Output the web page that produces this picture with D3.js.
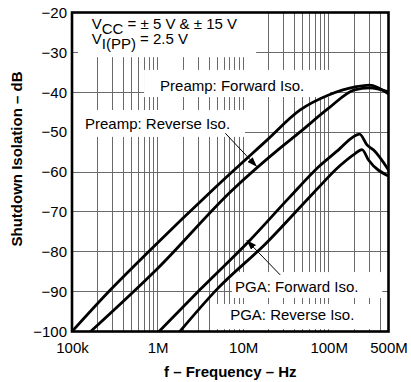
<!DOCTYPE html>
<html>
<head>
<meta charset="utf-8">
<script src="https://cdn.jsdelivr.net/npm/d3@7"></script>
<style>
  html, body { margin: 0; padding: 0; background: #fff; }
  svg { display: block; font-family: "Liberation Sans", Arial, Helvetica, sans-serif; }
  text { white-space: pre; }
</style>
</head>
<body>
<svg id="chart" width="411" height="382"></svg>
<script>
// Shutdown isolation vs. frequency for the preamp and PGA stages

// Preamp, forward isolation
const preampFwdFreq = [1e5, 2.8e5, 8e5, 4.4e6, 1.9e7, 4.6e7, 1.0e8, 2.1e8, 3.0e8, 5.0e8];
const preampFwdDb   = [-100, -89.6, -79.8, -64.5, -52.0, -44.5, -40.7, -38.6, -38.2, -40.4];

// Preamp, reverse isolation
const preampRevFreq = [1.65e5, 1.0e6, 7.5e6, 2.7e7, 4.6e7, 1.0e8, 2.0e8, 3.0e8, 5.0e8];
const preampRevDb   = [-100, -84.2, -64.5, -54.0, -50.0, -44.0, -39.4, -38.9, -39.9];

// PGA, forward isolation
const pgaFwdFreq = [1.04e6, 3.1e6, 1.2e7, 3.5e7, 7.8e7, 1.34e8, 1.85e8, 2.3e8, 2.8e8, 3.35e8, 5.0e8];
const pgaFwdDb   = [-100, -89.6, -77.1, -66.3, -58.5, -54.2, -51.5, -50.5, -53.2, -54.5, -59.5];

// PGA, reverse isolation
const pgaRevFreq = [1.82e6, 4.9e6, 1.87e7, 6.8e7, 1.34e8, 2.0e8, 2.45e8, 2.92e8, 5.0e8];
const pgaRevDb   = [-100, -89.5, -77.8, -65.0, -58.5, -55.5, -54.4, -57.0, -61.0];

// Axis ticks
const xTickValues = [1e5, 1e6, 1e7, 1e8, 5e8];
const xTickLabels = ["100k", "1M", "10M", "100M", "500M"];
const yTickValues = [-100, -90, -80, -70, -60, -50, -40, -30, -20];
const yTickLabels = ["\u2212100", "\u221290", "\u221280", "\u221270", "\u221260", "\u221250", "\u221240", "\u221230", "\u221220"];

const xTitle = "f \u2013 Frequency \u2013 Hz";
const yTitle = "Shutdown Isolation \u2013 dB";

// ---- layout ----
const svg = d3.select("#chart");
const plot = { left: 72, right: 388.5, top: 12.5, bottom: 331.5 };

const x = d3.scaleLog().domain([1e5, 5e8]).range([plot.left, plot.right]);
const y = d3.scaleLinear().domain([-100, -20]).range([plot.bottom, plot.top]);

const series = [
  { freq: preampFwdFreq, db: preampFwdDb },
  { freq: preampRevFreq, db: preampRevDb },
  { freq: pgaFwdFreq, db: pgaFwdDb },
  { freq: pgaRevFreq, db: pgaRevDb }
];

// Annotation placement, in data units (frequency, dB)
const labelBoxes = [
  { f0: 1.175e5, f1: 1.42e7, d0: -20,   d1: -31.2 },
  { f0: 6.95e5,  f1: 1.04e8, d0: -34.4, d1: -41.2 },
  { f0: 1e5,     f1: 1.05e7, d0: -44.45, d1: -51.2 },
  { f0: 7.43e6,  f1: 4.23e8, d0: -85.1, d1: -91.6 },
  { f0: 4.11e6,  f1: 3.69e8, d0: -93.1, d1: -99.4 }
];

const labels = [
  { f: 1.7e5,  d: -24.2, parts: [["V", 0], ["CC", 4.5], [" = \u00b1 5 V & \u00b1 15 V", 0]] },
  { f: 1.7e5,  d: -27.9, parts: [["V", 0], ["I(PP)", 4.5], [" = 2.5 V", 0]] },
  { f: 1.07e6, d: -39.7, parts: [["Preamp: Forward Iso.", 0]] },
  { f: 1.42e5, d: -49.1, parts: [["Preamp: Reverse Iso.", 0]] },
  { f: 8.06e6, d: -90.1, parts: [["PGA: Forward Iso.", 0]] },
  { f: 7.05e6, d: -97.1, parts: [["PGA: Reverse Iso.", 0]] }
];

const arrows = [
  { from: [6.2e6, -50.3], to: [1.45e7, -58.7] },
  { from: [2.71e7, -85.8], to: [1.10e7, -77.1] }
];

// ---- grid ----
const minorX = [];
[1e5, 1e6, 1e7, 1e8].forEach(dec => {
  for (let m = 1; m <= 9; m++) {
    const v = dec * m;
    if (v > 1e5 && v < 5e8) minorX.push(v);
  }
});

const grid = svg.append("g")
  .attr("stroke", "#6a6a6a")
  .attr("stroke-width", 1)
  .attr("shape-rendering", "crispEdges");

grid.selectAll("line.v").data(minorX).join("line")
  .attr("class", "v")
  .attr("x1", d => x(d)).attr("x2", d => x(d))
  .attr("y1", plot.top).attr("y2", plot.bottom);

grid.selectAll("line.h").data(yTickValues.slice(1, -1)).join("line")
  .attr("class", "h")
  .attr("x1", plot.left).attr("x2", plot.right)
  .attr("y1", d => y(d)).attr("y2", d => y(d));

// ---- white label backgrounds ----
svg.append("g").selectAll("rect").data(labelBoxes).join("rect")
  .attr("x", d => x(d.f0))
  .attr("y", d => y(d.d0))
  .attr("width", d => x(d.f1) - x(d.f0))
  .attr("height", d => y(d.d1) - y(d.d0))
  .attr("fill", "#fff");

// ---- traces ----
const clip = svg.append("clipPath").attr("id", "plotClip")
  .append("rect")
  .attr("x", plot.left).attr("y", plot.top)
  .attr("width", plot.right - plot.left).attr("height", plot.bottom - plot.top);

const line = d3.line()
  .x(d => x(d[0]))
  .y(d => y(d[1]))
  .curve(d3.curveMonotoneX);

svg.append("g").attr("clip-path", "url(#plotClip)")
  .selectAll("path").data(series).join("path")
  .attr("d", s => line(s.freq.map((f, i) => [f, s.db[i]])))
  .attr("fill", "none")
  .attr("stroke", "#000")
  .attr("stroke-width", 2.8)
  .attr("stroke-linejoin", "round")
  .attr("stroke-linecap", "round");

// ---- arrows ----
svg.append("defs").append("marker")
  .attr("id", "head")
  .attr("markerUnits", "userSpaceOnUse")
  .attr("markerWidth", 10).attr("markerHeight", 7)
  .attr("refX", 10).attr("refY", 3.5)
  .attr("orient", "auto")
  .append("path")
  .attr("d", "M0,0 L10,3.5 L0,7 Z")
  .attr("fill", "#000");

svg.append("g").selectAll("line").data(arrows).join("line")
  .attr("x1", d => x(d.from[0])).attr("y1", d => y(d.from[1]))
  .attr("x2", d => x(d.to[0])).attr("y2", d => y(d.to[1]))
  .attr("stroke", "#000")
  .attr("stroke-width", 1)
  .attr("marker-end", "url(#head)");

// ---- annotation text ----
const notes = svg.append("g").attr("font-size", 15).attr("fill", "#000");
labels.forEach(l => {
  const t = notes.append("text")
    .attr("x", x(l.f))
    .attr("y", y(l.d));
  let prev = 0;
  l.parts.forEach(([s, shift]) => {
    t.append("tspan").attr("dy", shift - prev).text(s);
    prev = shift;
  });
});

// ---- frame ----
svg.append("rect")
  .attr("x", plot.left).attr("y", plot.top)
  .attr("width", plot.right - plot.left).attr("height", plot.bottom - plot.top)
  .attr("fill", "none")
  .attr("stroke", "#000")
  .attr("stroke-width", 2.6);

// ---- axes ----
const xAxis = svg.append("g")
  .attr("transform", `translate(0,${plot.bottom})`)
  .call(d3.axisBottom(x).tickValues(xTickValues)
    .tickFormat((d, i) => xTickLabels[i]).tickSize(0).tickPadding(11));
xAxis.select(".domain").remove();
xAxis.selectAll("text").attr("font-size", 15).attr("fill", "#000")
  .attr("font-family", "'Liberation Sans', Arial, sans-serif");

const yAxis = svg.append("g")
  .attr("transform", `translate(${plot.left},0)`)
  .call(d3.axisLeft(y).tickValues(yTickValues)
    .tickFormat((d, i) => yTickLabels[i]).tickSize(0).tickPadding(5));
yAxis.select(".domain").remove();
yAxis.selectAll("text").attr("font-size", 15).attr("fill", "#000")
  .attr("font-family", "'Liberation Sans', Arial, sans-serif");

// ---- axis titles ----
svg.append("text")
  .attr("x", (plot.left + plot.right) / 2)
  .attr("y", 377)
  .attr("text-anchor", "middle")
  .attr("font-size", 15)
  .attr("font-weight", "bold")
  .text(xTitle);

svg.append("text")
  .attr("transform", `translate(21.5,159) rotate(-90)`)
  .attr("text-anchor", "middle")
  .attr("font-size", 15)
  .attr("font-weight", "bold")
  .text(yTitle);
</script>
</body>
</html>
